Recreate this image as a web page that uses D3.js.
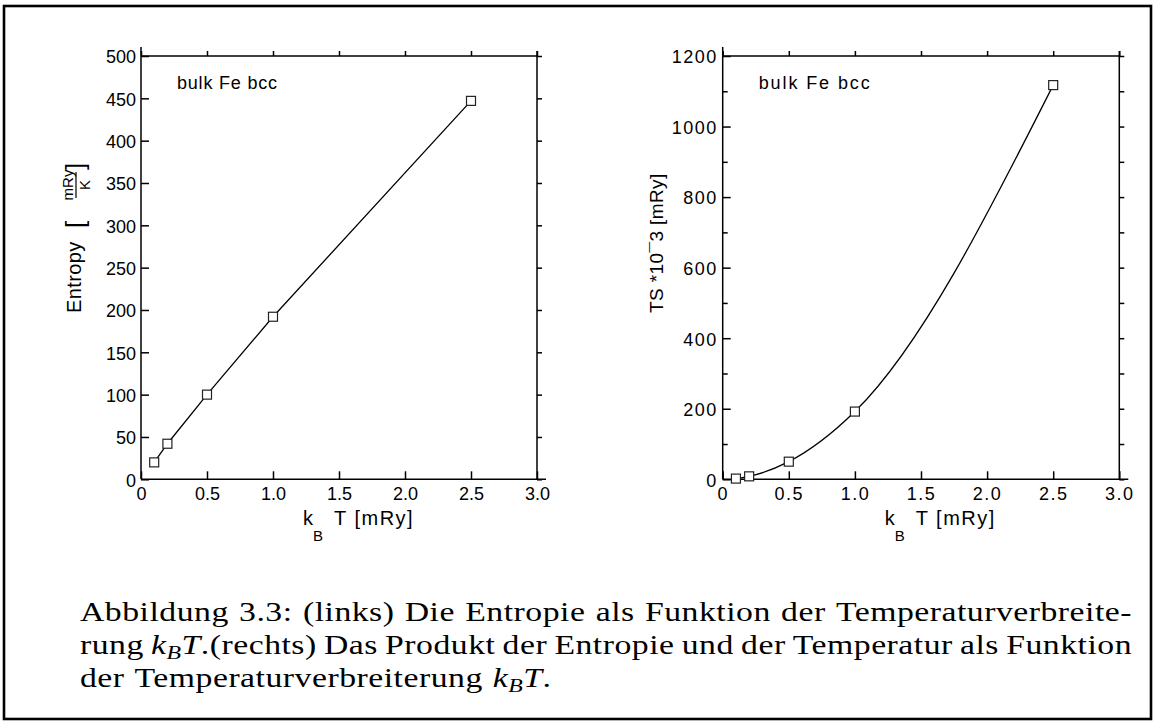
<!DOCTYPE html>
<html>
<head>
<meta charset="utf-8">
<script src="https://cdn.jsdelivr.net/npm/d3@7"></script>
<style>
  html, body { margin: 0; padding: 0; background: #fff; }
  svg { display: block; }
</style>
</head>
<body>
<svg id="fig" width="1154" height="722"></svg>
<script>
// Temperature broadening k_B T in mRy
const kT = [0.1, 0.2, 0.5, 1.0, 2.5];
// Entropy in mRy/K
const entropy = [20, 42, 100, 192, 447];
// T*S * 10^-3 in mRy
const tsProduct = [2, 8.4, 50, 192, 1117.5];

const xTicks = [0, 0.5, 1.0, 1.5, 2.0, 2.5, 3.0];
const xTickLabels = ["0", "0.5", "1.0", "1.5", "2.0", "2.5", "3.0"];
const entropyTicks = [0, 50, 100, 150, 200, 250, 300, 350, 400, 450, 500];
const entropyTickLabels = ["0", "50", "100", "150", "200", "250", "300", "350", "400", "450", "500"];
const tsTicks = [0, 200, 400, 600, 800, 1000, 1200];
const tsTickLabels = ["0", "200", "400", "600", "800", "1000", "1200"];
const tsMinorTicks = [100, 300, 500, 700, 900, 1100];

const sampleLabel = "bulk Fe bcc";

// Caption lines; {kBT} marks the inline math k_B T
const captionLines = [
  "Abbildung 3.3: (links) Die Entropie als Funktion der Temperaturverbreite-",
  "rung {kBT}.(rechts) Das Produkt der Entropie und der Temperatur als Funktion",
  "der Temperaturverbreiterung {kBT}."
];

const svg = d3.select("#fig");
const SANS = "'Liberation Sans', Arial, sans-serif";
const SERIF = "'Liberation Serif', 'Times New Roman', serif";

// page frame
svg.append("rect")
  .attr("x", 4).attr("y", 6).attr("width", 1147).attr("height", 713)
  .attr("fill", "none").attr("stroke", "#000").attr("stroke-width", 2.6);

function drawPanel(cfg) {
  const g = svg.append("g");
  const x = d3.scaleLinear().domain([0, 3]).range([cfg.left, cfg.right]);
  const y = d3.scaleLinear().domain([0, cfg.yMax]).range([cfg.bottom, cfg.top]);

  const styleAxis = (sel, ls) => {
    sel.select(".domain").remove();
    sel.selectAll(".tick line").attr("stroke", "#000").attr("stroke-width", 1.5);
    sel.selectAll("text")
      .attr("fill", "#000")
      .style("font-family", SANS)
      .style("font-size", "18px")
      .style("letter-spacing", ls + "px");
    sel.attr("font-family", null).attr("font-size", null);
  };

  // bottom axis with inward ticks and labels
  g.append("g")
    .attr("transform", `translate(0,${cfg.bottom})`)
    .call(d3.axisBottom(x).tickValues(xTicks)
      .tickFormat((d, i) => xTickLabels[i])
      .tickSizeInner(-8).tickSizeOuter(0).tickPadding(8))
    .call(s => styleAxis(s, cfg.ls));

  // top axis: short outward ticks
  g.append("g")
    .attr("transform", `translate(0,${cfg.top})`)
    .call(d3.axisTop(x).tickValues(xTicks).tickFormat("").tickSizeInner(5).tickSizeOuter(0))
    .call(s => styleAxis(s, 0));

  // left axis with inward ticks and labels
  g.append("g")
    .attr("transform", `translate(${cfg.left},0)`)
    .call(d3.axisLeft(y).tickValues(cfg.yTicks)
      .tickFormat((d, i) => cfg.yTickLabels[i])
      .tickSizeInner(-8).tickSizeOuter(0).tickPadding(5))
    .call(s => styleAxis(s, cfg.ls))
    .call(s => s.selectAll("text").attr("dy", "0.38em"));

  if (cfg.yMinor) {
    g.append("g")
      .attr("transform", `translate(${cfg.left},0)`)
      .call(d3.axisLeft(y).tickValues(cfg.yMinor).tickFormat("").tickSizeInner(-5).tickSizeOuter(0))
      .call(s => styleAxis(s, 0));
  }

  // right axis: short outward ticks
  g.append("g")
    .attr("transform", `translate(${cfg.right},0)`)
    .call(d3.axisRight(y).tickValues(cfg.yRightTicks).tickFormat("").tickSizeInner(5).tickSizeOuter(0))
    .call(s => styleAxis(s, 0));

  // box lines
  const box = g.append("g").attr("stroke", "#000").attr("stroke-width", 1.5).attr("fill", "none");
  box.append("line").attr("x1", cfg.left).attr("x2", cfg.left).attr("y1", cfg.bottom).attr("y2", cfg.top - 9);
  box.append("line").attr("x1", cfg.left).attr("x2", cfg.right).attr("y1", cfg.top).attr("y2", cfg.top);
  box.append("line").attr("x1", cfg.right).attr("x2", cfg.right).attr("y1", cfg.bottom).attr("y2", cfg.top - 5);
  box.append("line").attr("x1", cfg.left).attr("x2", cfg.right + 9).attr("y1", cfg.bottom).attr("y2", cfg.bottom);

  // data curve
  const pts = kT.map((k, i) => [k, cfg.values[i]]);
  g.append("path")
    .datum(pts)
    .attr("fill", "none").attr("stroke", "#000").attr("stroke-width", 1.3)
    .attr("d", d3.line().x(d => x(d[0])).y(d => y(d[1])).curve(cfg.curve));

  // open square markers
  g.selectAll("rect.pt").data(pts).join("rect")
    .attr("class", "pt")
    .attr("x", d => x(d[0]) - 4.5).attr("y", d => y(d[1]) - 4.5)
    .attr("width", 9).attr("height", 9)
    .attr("fill", "#fff").attr("stroke", "#222").attr("stroke-width", 1.2);

  // sample annotation
  g.append("text")
    .attr("x", x(0) + 36).attr("y", cfg.top + 33)
    .style("font-family", SANS).style("font-size", "18px")
    .style("letter-spacing", cfg.annLs + "px")
    .text(sampleLabel);

  // x axis title: k_B T [mRy]
  const xt = g.append("text")
    .attr("x", x(0) + 162).attr("y", 525)
    .style("font-family", SANS).style("font-size", "20px");
  xt.append("tspan").text("k");
  xt.append("tspan").attr("dy", 16).style("font-size", "15px").text("B");
  xt.append("tspan").attr("x", x(0) + 193).attr("dy", -16)
    .style("letter-spacing", "1.5px").text("T [mRy]");

  return { g, x, y };
}

const left = drawPanel({
  left: 141, right: 537, top: 56, bottom: 479.3,
  yMax: 500, yTicks: entropyTicks, yTickLabels: entropyTickLabels,
  yRightTicks: entropyTicks, yMinor: null,
  values: entropy, curve: d3.curveLinear, ls: 0, annLs: 0.8
});

const right = drawPanel({
  left: 722.7, right: 1119.3, top: 56, bottom: 479.3,
  yMax: 1200, yTicks: tsTicks, yTickLabels: tsTickLabels,
  yRightTicks: tsTicks.concat(tsMinorTicks), yMinor: tsMinorTicks,
  values: tsProduct, curve: d3.curveMonotoneX, ls: 1.5, annLs: 1.9
});

// y axis title, left panel: Entropy [mRy / K]
{
  const t = svg.append("g").attr("transform", "translate(81,313) rotate(-90)")
    .style("font-family", SANS).attr("fill", "#000");
  t.append("text").attr("x", 0).attr("y", 0).style("font-size", "20px")
    .style("letter-spacing", "0.4px").text("Entropy");
  t.append("text").attr("x", 85).attr("y", 3).style("font-size", "26px").text("[");
  t.append("text").attr("x", 128).attr("y", -8).attr("text-anchor", "middle")
    .style("font-size", "15px").text("mRy");
  t.append("line").attr("x1", 115).attr("x2", 141).attr("y1", -5).attr("y2", -5)
    .attr("stroke", "#000").attr("stroke-width", 1.2);
  t.append("text").attr("x", 128).attr("y", 8.5).attr("text-anchor", "middle")
    .style("font-size", "15px").text("K");
  t.append("text").attr("x", 143).attr("y", 3).style("font-size", "26px").text("]");
}

// y axis title, right panel: TS *10^-3 [mRy]
{
  const t = svg.append("g").attr("transform", "translate(663,313) rotate(-90)")
    .style("font-family", SANS).attr("fill", "#000");
  const tx = t.append("text").attr("x", 0).attr("y", 0).style("font-size", "19px")
    .style("letter-spacing", "0.4px");
  tx.append("tspan").text("TS *10");
  tx.append("tspan").text("\u00AF");
  tx.append("tspan").text("3 [mRy]");
}

// caption, justified to the text block width
{
  const capLeft = 80, capRight = 1132, sx = 1.25;
  const baselines = [621, 654, 687];
  const cap = svg.append("g")
    .attr("transform", `translate(${capLeft},0) scale(${sx},1)`)
    .style("font-family", SERIF).style("font-size", "27px")
    .attr("fill", "#000");
  const blockWidth = (capRight - capLeft) / sx;

  const parseWord = w => {
    const segs = [];
    const parts = w.split("{kBT}");
    parts.forEach((p, i) => {
      if (p) segs.push({ t: p });
      if (i < parts.length - 1) {
        segs.push({ t: "k", i: true });
        segs.push({ t: "B", i: true, sub: true });
        segs.push({ t: "T", i: true });
      }
    });
    return segs;
  };

  const drawWord = (segs, xPos, yPos) => {
    const t = cap.append("text").attr("x", xPos).attr("y", yPos)
      .style("letter-spacing", "0.4px");
    let shift = 0;
    segs.forEach(s => {
      const sp = t.append("tspan").text(s.t);
      if (s.i) sp.style("font-style", "italic");
      const target = s.sub ? 5 : 0;
      if (target !== shift) { sp.attr("dy", target - shift); shift = target; }
      if (s.sub) sp.style("font-size", "19px");
    });
    return t;
  };

  captionLines.forEach((line, li) => {
    const words = line.split(" ").map(parseWord);
    const nodes = words.map(w => drawWord(w, 0, baselines[li]));
    const widths = nodes.map(n => n.node().getComputedTextLength());
    const total = d3.sum(widths);
    const justify = li < captionLines.length - 1;
    const gap = justify ? (blockWidth - total) / (words.length - 1) : 8;
    let cx = 0;
    nodes.forEach((n, i) => {
      n.attr("x", cx);
      cx += widths[i] + gap;
    });
  });
}
</script>
</body>
</html>
